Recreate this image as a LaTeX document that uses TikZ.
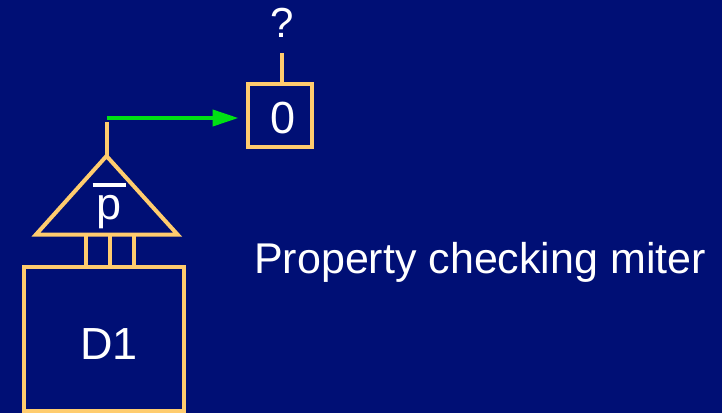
\documentclass[tikz,border=0pt]{standalone}
\usepackage{fontspec}
\setmainfont{Liberation Sans}
\usepackage{xcolor}
\usepackage{tikz}
\usetikzlibrary{arrows.meta, positioning}

\definecolor{slidebg}{RGB}{0,15,117}
\definecolor{wireorange}{RGB}{255,204,110}
\definecolor{signalgreen}{RGB}{0,225,20}

% letter with a bar over it
\newcommand{\invsig}[1]{\setbox0\hbox{#1}\rlap{\hbox to\wd0{\hss\rule[0.72em]{0.75em}{0.07em}\hss}}\box0}

\begin{document}
\begin{tikzpicture}[x=1pt, y=-1pt]
    \tikzstyle{wire} = [draw=wireorange, line width=4pt]
    \tikzstyle{cell} = [rectangle, draw=wireorange, line width=4pt, inner sep=0pt]
    \tikzstyle{caption} = [text=white, inner sep=0pt, font=\fontsize{45}{52}\selectfont]
    \tikzstyle{signal} = [draw=signalgreen, line width=4pt, -{Triangle[length=26pt, width=16pt]}]

    \fill[slidebg] (0,0) rectangle (722,413);
    \useasboundingbox (0,0) rectangle (722,413);

    % design and property
    \node (d1) [cell, minimum width=160pt, minimum height=144pt] at (104,339) {};
    \node (d1txt) [caption, anchor=base] at (109,359.5) {D1};

    \coordinate (apex) at (106.5,156);
    \coordinate (bl) at (36,234.5);
    \coordinate (br) at (177.5,234.5);
    \draw[wire] (apex) -- (bl) -- (br) -- cycle;
    \node (ptxt) [caption, anchor=base] at (109.5,219) {\invsig{p}};

    \foreach \wx in {85.5,109.5,134}
        \draw[wire] (\wx,0 |- bl) -- (\wx,0 |- d1.north);

    % output
    \node (zero) [cell, minimum width=64pt, minimum height=63.3pt] at (279.5,115.7) {};
    \node (zerotxt) [caption, anchor=base] at (283,133.5) {0};
    \node (query) [caption, font=\fontsize{42}{50}\selectfont, anchor=base] at (282,37) {?};
    \coordinate (qtop) at (282,53);
    \draw[wire] (zero.north -| qtop) -- (qtop);

    \coordinate (stubtop) at (106.5,122);
    \coordinate (outp) at (107,118);
    \draw[wire] (apex) -- (stubtop);
    \draw[signal, shorten >=7pt] (outp) -- (zero.west |- outp);

    \node (title) [caption, font=\fontsize{43}{50}\selectfont, anchor=base west] at (254,273.5) {Property checking miter};
\end{tikzpicture}
\end{document}
